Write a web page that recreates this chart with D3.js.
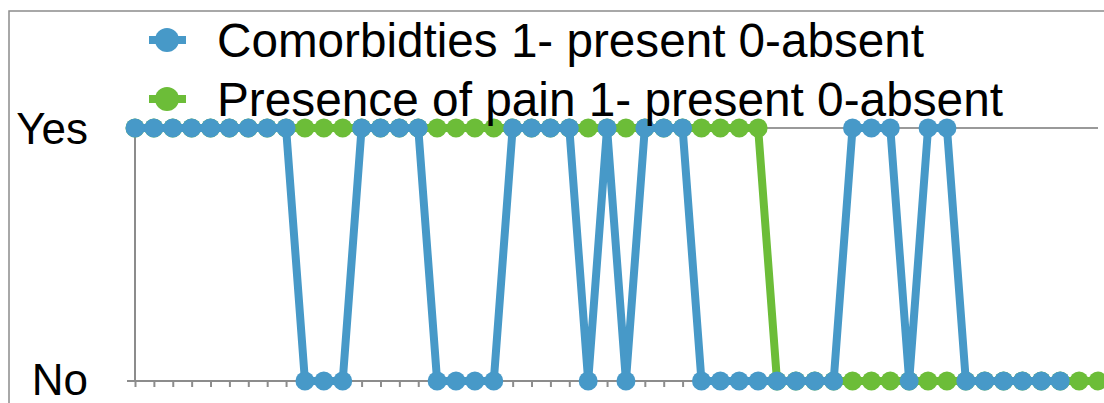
<!DOCTYPE html>
<html>
<head>
<meta charset="utf-8">
<script src="https://cdn.jsdelivr.net/npm/d3@7"></script>
<style>
  html, body { margin: 0; padding: 0; background: #fff; overflow: hidden; }
  svg { display: block; font-family: "Liberation Sans", Arial, Helvetica, sans-serif; }
</style>
</head>
<body>
<svg id="chart" width="1104" height="403"></svg>
<script>
// Values, one per patient (1 = present, 0 = absent)
const comorbidities = [
  1, 1, 1, 1, 1, 1, 1, 1, 1, 0,
  0, 0, 1, 1, 1, 1, 0, 0, 0, 0,
  1, 1, 1, 1, 0, 1, 0, 1, 1, 1,
  0, 0, 0, 0, 0, 0, 0, 0, 1, 1,
  1, 0, 1, 1, 0, 0, 0, 0, 0, 0
];
const pain = [
  1, 1, 1, 1, 1, 1, 1, 1, 1, 1,
  1, 1, 1, 1, 1, 1, 1, 1, 1, 1,
  1, 1, 1, 1, 1, 1, 1, 1, 1, 1,
  1, 1, 1, 1, 0, 0, 0, 0, 0, 0,
  0, 0, 0, 0, 0, 0, 0, 0, 0, 0,
  0, 0
];
const yLabels = ['No', 'Yes'];
const seriesNames = [
  'Comorbidties 1- present 0-absent',
  'Presence of pain 1- present 0-absent'
];

const BLUE = '#4799c8';
const GREEN = '#6cbd38';
const AXIS = '#8c8c8c';

const svg = d3.select('#chart');

// outer chart frame (runs off the right and bottom edge)
svg.append('rect')
  .attr('x', 9).attr('y', 11)
  .attr('width', 1200).attr('height', 500)
  .attr('fill', 'none')
  .attr('stroke', AXIS)
  .attr('stroke-width', 1.5);

let count = Math.max(comorbidities.length, pain.length);
let x = d3.scalePoint().domain(d3.range(count)).range([135, 1098]);
let y = d3.scalePoint().domain([0, 1]).range([381, 128]);

// gridline at Yes
svg.append('line')
  .attr('x1', 127).attr('x2', 1098)
  .attr('y1', y(1)).attr('y2', y(1))
  .attr('stroke', '#999').attr('stroke-width', 2);

// x axis with a small tick under every category
let xAxis = d3.axisBottom(x).tickSize(6).tickFormat('');
let gx = svg.append('g').attr('transform', `translate(0,${y(0)})`).call(xAxis);
gx.select('.domain').remove();
gx.selectAll('.tick line').attr('stroke', AXIS).attr('stroke-width', 2);
svg.append('line')
  .attr('x1', 127).attr('x2', 1098)
  .attr('y1', y(0)).attr('y2', y(0))
  .attr('stroke', AXIS).attr('stroke-width', 2);

// y axis
svg.append('line')
  .attr('x1', 135).attr('x2', 135)
  .attr('y1', y(1)).attr('y2', y(0))
  .attr('stroke', AXIS).attr('stroke-width', 2);

svg.selectAll('.ylabel')
  .data(yLabels)
  .enter()
  .append('text')
    .attr('class', 'ylabel')
    .attr('x', 88)
    .attr('y', (d, i) => y(i) + (i ? 16 : 14))
    .attr('text-anchor', 'end')
    .attr('font-size', 44)
    .attr('fill', '#000')
    .text(d => d);

function drawSeries(values, color) {
  let line = d3.line().x((d, i) => x(i)).y(d => y(d));
  let g = svg.append('g');
  g.append('path')
    .datum(values)
    .attr('d', line)
    .attr('fill', 'none')
    .attr('stroke', color)
    .attr('stroke-width', 8)
    .attr('stroke-linejoin', 'round');
  g.selectAll('circle')
    .data(values)
    .enter()
    .append('circle')
      .attr('cx', (d, i) => x(i))
      .attr('cy', d => y(d))
      .attr('r', 9.5)
      .attr('fill', color);
}

// pain first, comorbidities drawn on top
drawSeries(pain, GREEN);
drawSeries(comorbidities, BLUE);

// legend
let legend = svg.append('g');
let legendItems = legend.selectAll('g')
  .data([
    { name: seriesNames[0], color: BLUE, y: 40, width: 707 },
    { name: seriesNames[1], color: GREEN, y: 99, width: 786 }
  ])
  .enter()
  .append('g');

legendItems.append('line')
  .attr('x1', 149).attr('x2', 186)
  .attr('y1', d => d.y).attr('y2', d => d.y)
  .attr('stroke', d => d.color)
  .attr('stroke-width', 8);
legendItems.append('circle')
  .attr('cx', 167).attr('cy', d => d.y)
  .attr('r', 12)
  .attr('fill', d => d.color);
legendItems.append('text')
  .attr('x', 217)
  .attr('y', d => d.y + 17)
  .attr('font-size', 47.5)
  .attr('textLength', d => d.width)
  .attr('lengthAdjust', 'spacingAndGlyphs')
  .attr('fill', '#000')
  .text(d => d.name);
</script>
</body>
</html>
